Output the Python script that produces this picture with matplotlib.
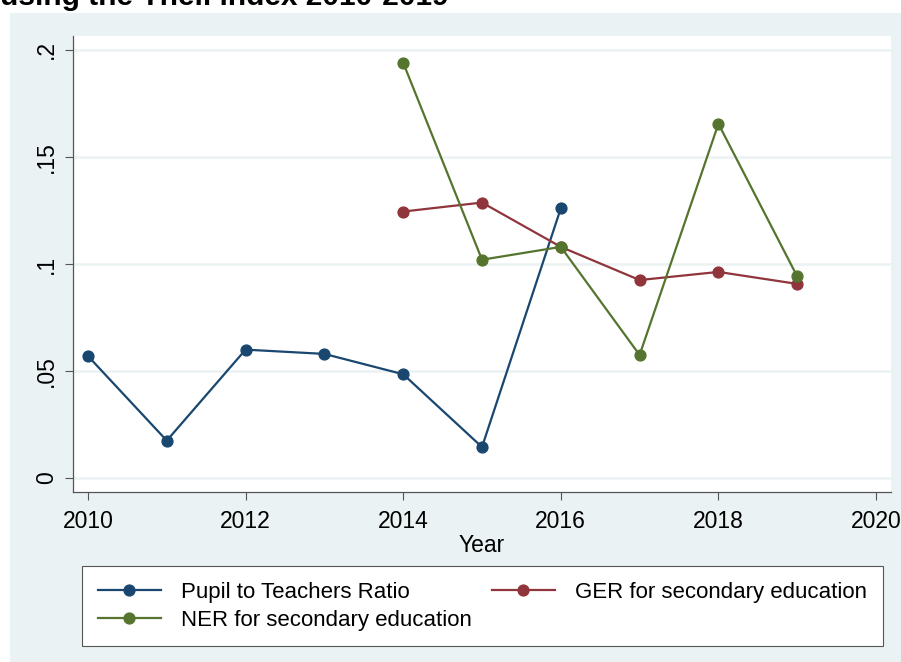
import matplotlib
matplotlib.use("Agg")
import matplotlib.pyplot as plt
from matplotlib.patches import Rectangle

plt.rcParams['font.family'] = ['Liberation Sans', 'DejaVu Sans']

# data
years_ptr = [2010, 2011, 2012, 2013, 2014, 2015, 2016]
ptr = [0.057, 0.0175, 0.060, 0.058, 0.0485, 0.0145, 0.126]

years_sec = [2014, 2015, 2016, 2017, 2018, 2019]
ger = [0.1245, 0.1287, 0.108, 0.0925, 0.0963, 0.0907]
ner = [0.194, 0.102, 0.108, 0.0575, 0.1655, 0.0942]

xticks = [2010, 2012, 2014, 2016, 2018, 2020]
yticks = [0, 0.05, 0.1, 0.15, 0.2]
ylabels = ["0", ".05", ".1", ".15", ".2"]

navy = "#1A476F"
maroon = "#90353B"
green = "#55752F"
panel = "#EAF2F3"

W, H = 901, 662
fig = plt.figure(figsize=(W / 100, H / 100), dpi=100)
fig.patch.set_facecolor("white")
fig.patches.append(Rectangle((10 / W, 0), 1, 1 - 13 / H, transform=fig.transFigure,
                             facecolor=panel, edgecolor="none", zorder=-10))

# title is cut by the top edge in the original screenshot
fig.text(0, 1 - 5 / H, "using the Theil index 2010-2019", fontsize=21.5,
         fontweight="bold", va="baseline", ha="left")

ax = fig.add_axes([73 / W, 1 - 492 / H, (891 - 73) / W, (492 - 36) / H])
ax.set_facecolor("white")

l1, = ax.plot(years_ptr, ptr, color=navy, lw=1.6, marker="o", ms=7.8,
              label="Pupil to Teachers Ratio", zorder=3)
l2, = ax.plot(years_sec, ger, color=maroon, lw=1.6, marker="o", ms=7.8,
              label="GER for secondary education", zorder=3)
l3, = ax.plot(years_sec, ner, color=green, lw=1.6, marker="o", ms=7.8,
              label="NER for secondary education", zorder=3)

ax.set_xlim(2009.81, 2020.19)
ax.set_ylim(-0.0065, 0.2065)
ax.set_xticks(xticks)
ax.set_yticks(yticks)
ax.set_yticklabels(ylabels, rotation=90, va="center")
ax.tick_params(labelsize=16.5, length=6, color="#555555", width=0.8)
ax.tick_params(axis="x", pad=7)
ax.tick_params(axis="y", pad=5)
ax.grid(axis="y", color=panel, lw=1.8)
ax.grid(axis="x", visible=False)
ax.set_axisbelow(True)
for s in ["top", "right"]:
    ax.spines[s].set_visible(False)
for s in ["left", "bottom"]:
    ax.spines[s].set_color("#555555")
    ax.spines[s].set_linewidth(0.9)

ax.set_xlabel("Year", fontsize=16.5, labelpad=1)

# column-major fill: PTR, NER in first column, GER in second
leg = fig.legend([l1, l3, l2], [l1.get_label(), l3.get_label(), l2.get_label()],
                 loc="upper left", bbox_to_anchor=(82 / W, 1 - 566 / H), ncol=2,
                 fontsize=16, frameon=True, fancybox=False, edgecolor="#555555",
                 handlelength=2.85, columnspacing=0.9, borderpad=0.7,
                 labelspacing=0.32, handletextpad=0.9, borderaxespad=0)
leg.get_frame().set_linewidth(0.8)
leg.get_frame().set_alpha(1)

fig.savefig("out.png", dpi=100, facecolor=fig.get_facecolor())
